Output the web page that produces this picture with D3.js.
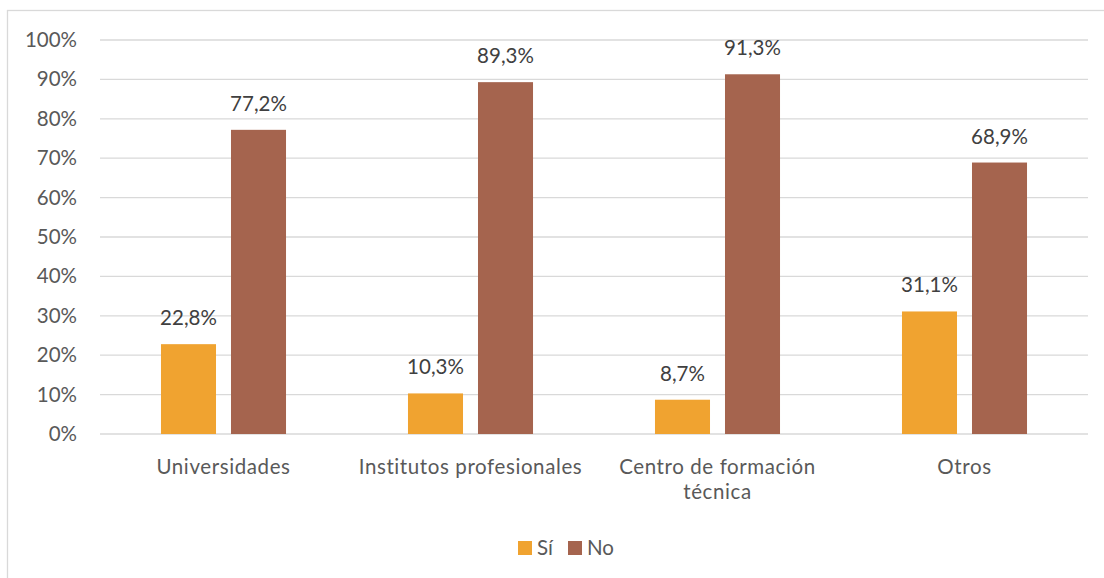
<!DOCTYPE html>
<html>
<head>
<meta charset="utf-8">
<script src="https://cdn.jsdelivr.net/npm/d3@7"></script>
<style>
  html, body { margin: 0; padding: 0; background: #fff; }
  svg { display: block; font-family: Lato, "Open Sans", sans-serif; }
</style>
</head>
<body>
<svg id="chart" width="1104" height="578"></svg>
<script>
// Categories and series values (percent)
const categories = ["Universidades", "Institutos profesionales", "Centro de formación técnica", "Otros"];
const categoryLines = [["Universidades"], ["Institutos profesionales"], ["Centro de formación", "técnica"], ["Otros"]];
const seriesNames = ["Sí", "No"];
const siValues = [22.8, 10.3, 8.7, 31.1];
const noValues = [77.2, 89.3, 91.3, 68.9];
const yTicks = [0, 10, 20, 30, 40, 50, 60, 70, 80, 90, 100];
const colors = ["#F0A330", "#A5644E"];

const series = [siValues, noValues];
const FS = 20.5;

const svg = d3.select("#chart");

// outer chart frame
svg.append("rect")
  .attr("x", 7.5).attr("y", 10.5)
  .attr("width", 1110).attr("height", 600)
  .attr("fill", "none").attr("stroke", "#d9d9d9").attr("stroke-width", 1.3);

const plot = { left: 100, right: 1088, top: 40, bottom: 434 };

const x0 = d3.scaleBand().domain(categories).range([plot.left, plot.right]).padding(0);
const x1 = d3.scaleBand().domain(seriesNames).range([0, x0.bandwidth()]).paddingInner(0.214).paddingOuter(0.871);
const y = d3.scaleLinear().domain([0, 100]).range([plot.bottom, plot.top]);

const locale = d3.formatLocale({ decimal: ",", thousands: ".", grouping: [3], currency: ["", ""] });
const fmt = v => locale.format(".1f")(v) + "%";

// gridlines
svg.append("g")
  .selectAll("line")
  .data(yTicks)
  .join("line")
  .attr("x1", plot.left).attr("x2", plot.right)
  .attr("y1", d => y(d)).attr("y2", d => y(d))
  .attr("stroke", "#d9d9d9").attr("stroke-width", 1.3);

// y axis labels
const yAxis = d3.axisLeft(y).tickValues(yTicks).tickFormat(d => d + "%").tickSize(0).tickPadding(0);
const yg = svg.append("g").attr("transform", `translate(${plot.left - 23},0)`).call(yAxis);
yg.select(".domain").remove();
yg.selectAll("text").attr("font-size", FS).attr("fill", "#595959").attr("font-family", "Lato, sans-serif");

// bars
const groups = svg.append("g")
  .selectAll("g")
  .data(categories)
  .join("g")
  .attr("transform", d => `translate(${x0(d)},0)`);

groups.selectAll("rect")
  .data((d, i) => seriesNames.map((s, j) => ({ s, v: series[j][i], j })))
  .join("rect")
  .attr("x", d => x1(d.s))
  .attr("width", x1.bandwidth())
  .attr("y", d => y(d.v))
  .attr("height", d => y(0) - y(d.v))
  .attr("fill", d => colors[d.j]);

// value labels
groups.selectAll("text.val")
  .data((d, i) => seriesNames.map((s, j) => ({ s, v: series[j][i], j })))
  .join("text")
  .attr("class", "val")
  .attr("x", d => x1(d.s) + x1.bandwidth() / 2)
  .attr("y", d => y(d.v) - 19)
  .attr("text-anchor", "middle")
  .attr("font-size", FS)
  .attr("fill", "#404040")
  .text(d => fmt(d.v));

// category labels
svg.append("g")
  .selectAll("text")
  .data(categories)
  .join("text")
  .attr("x", d => x0(d) + x0.bandwidth() / 2)
  .attr("y", 474)
  .attr("text-anchor", "middle")
  .attr("font-size", FS)
  .attr("letter-spacing", 0.6)
  .attr("fill", "#595959")
  .each(function (d, i) {
    d3.select(this).selectAll("tspan")
      .data(categoryLines[i])
      .join("tspan")
      .attr("x", x0(d) + x0.bandwidth() / 2)
      .attr("dy", (t, k) => k === 0 ? 0 : 25)
      .text(t => t);
  });

// legend
const legendItems = [{ name: "Sí", x: 518 }, { name: "No", x: 568 }];
const lg = svg.append("g");
lg.selectAll("rect")
  .data(legendItems)
  .join("rect")
  .attr("x", d => d.x).attr("y", 541)
  .attr("width", 14).attr("height", 14)
  .attr("fill", (d, i) => colors[i]);
lg.selectAll("text")
  .data(legendItems)
  .join("text")
  .attr("x", d => d.x + 19).attr("y", 555)
  .attr("font-size", FS)
  .attr("fill", "#595959")
  .text(d => d.name);
</script>
</body>
</html>
